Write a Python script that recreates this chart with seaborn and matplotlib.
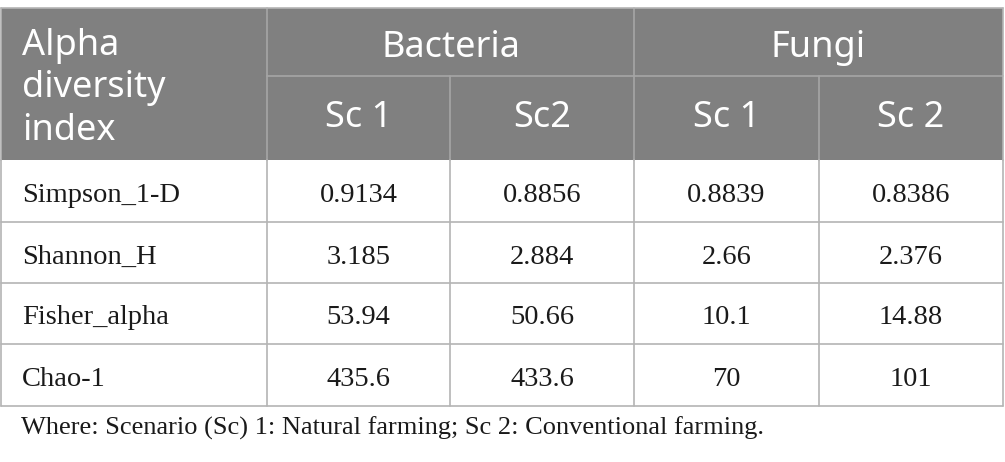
import matplotlib
matplotlib.use("Agg")
import matplotlib.pyplot as plt
import seaborn as sns

# table content
groups = ["Bacteria", "Fungi"]
scenarios = ["Sc 1", "Sc2", "Sc 1", "Sc 2"]
indices = ["Simpson_1-D", "Shannon_H", "Fisher_alpha", "Chao-1"]
bacteria_sc1 = ["0.9134", "3.185", "53.94", "435.6"]
bacteria_sc2 = ["0.8856", "2.884", "50.66", "433.6"]
fungi_sc1 = ["0.8839", "2.66", "10.1", "70"]
fungi_sc2 = ["0.8386", "2.376", "14.88", "101"]
corner_label = "Alpha\ndiversity\nindex"
footnote = "Where: Scenario (Sc) 1: Natural farming; Sc 2: Conventional farming."

sns.set_theme(style="white")

W, H = 1005, 462
fig = plt.figure(figsize=(W / 100, H / 100), dpi=100)
ax = fig.add_axes([0, 0, 1, 1])
ax.set_xlim(0, W)
ax.set_ylim(H, 0)
ax.axis("off")

# geometry in pixels
col_edges = [1, 267, 450, 634, 819, 1003]
top, mid, head_bot = 8, 76, 160
row_edges = [160, 222, 283, 344, 406]

head_col = "#808080"
line_col = "#b4b4b4"
head_line = "#a6a6a6"
sans = "Noto Sans"
serif = "Liberation Serif"

# header background
ax.add_patch(plt.Rectangle((col_edges[0], top), col_edges[-1] - col_edges[0],
                           head_bot - top, facecolor=head_col, edgecolor="none"))

# header lines
ax.plot([col_edges[1], col_edges[-1]], [mid, mid], color=head_line, lw=1.2)
for x in (col_edges[1], col_edges[3]):
    ax.plot([x, x], [top, head_bot], color=head_line, lw=1.2)
for x in (col_edges[2], col_edges[4]):
    ax.plot([x, x], [mid, head_bot], color=head_line, lw=1.2)

# body grid
for y in row_edges[1:]:
    ax.plot([col_edges[0], col_edges[-1]], [y, y], color=line_col, lw=1.2)
for x in col_edges:
    ax.plot([x, x], [head_bot, row_edges[-1]], color=line_col, lw=1.2)
# outer top/sides
ax.plot([col_edges[0], col_edges[-1]], [top, top], color=line_col, lw=1.2)
ax.plot([col_edges[0], col_edges[0]], [top, head_bot], color=line_col, lw=1.2)
ax.plot([col_edges[-1], col_edges[-1]], [top, head_bot], color=line_col, lw=1.2)

# header text (baseline of last line given)
ax.text(22, 140, corner_label, color="white", fontsize=26, family=sans,
        ha="left", va="baseline", linespacing=1.25)
for i, g in enumerate(groups):
    x0, x1 = col_edges[1 + 2 * i], col_edges[3 + 2 * i]
    ax.text((x0 + x1) / 2, 57, g, color="white", fontsize=26,
            family=sans, ha="center", va="baseline")
for i, s in enumerate(scenarios):
    x0, x1 = col_edges[1 + i], col_edges[2 + i]
    ax.text((x0 + x1) / 2, 127, s, color="white", fontsize=26,
            family=sans, ha="center", va="baseline")

# body text
cols = [bacteria_sc1, bacteria_sc2, fungi_sc1, fungi_sc2]
for r, name in enumerate(indices):
    yb = row_edges[r] + 41.5
    ax.text(22, yb, name, fontsize=20.5, family=serif, color="#1a1a1a",
            ha="left", va="baseline")
    for c, vals in enumerate(cols):
        x0, x1 = col_edges[1 + c], col_edges[2 + c]
        ax.text((x0 + x1) / 2, yb, vals[r], fontsize=20.5, family=serif,
                color="#1a1a1a", ha="center", va="baseline")

ax.text(21, 435, footnote, fontsize=19, family=serif, color="#1a1a1a",
        ha="left", va="baseline")

fig.savefig("out.png", dpi=100, facecolor="white")
